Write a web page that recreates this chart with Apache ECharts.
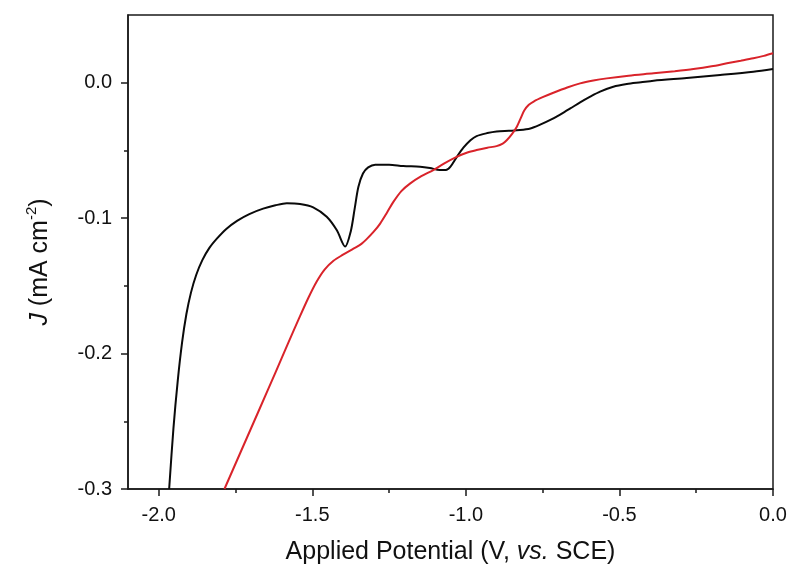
<!DOCTYPE html>
<html>
<head>
<meta charset="utf-8">
<script src="https://cdn.jsdelivr.net/npm/echarts@6/dist/echarts.min.js"></script>
<style>
html,body{margin:0;padding:0;background:#fff;}
#chart{width:789px;height:568px;}
</style>
</head>
<body>
<div id="chart"></div>
<script>
// Black curve: potential (V vs. SCE) and current density J (mA cm^-2)
const blackV = [-1.966,-1.952,-1.938,-1.924,-1.910,-1.895,-1.878,-1.858,-1.835,-1.810,-1.780,-1.745,-1.705,-1.660,-1.620,-1.583,-1.540,-1.497,-1.453,-1.420,-1.393,-1.375,-1.362,-1.350,-1.335,-1.318,-1.295,-1.250,-1.204,-1.149,-1.117,-1.085,-1.065,-1.050,-1.030,-1.008,-0.985,-0.965,-0.930,-0.900,-0.860,-0.824,-0.790,-0.758,-0.725,-0.693,-0.660,-0.628,-0.595,-0.563,-0.520,-0.476,-0.430,-0.389,-0.281,-0.172,-0.064,0.000];
const blackJ = [-0.300,-0.255,-0.220,-0.192,-0.171,-0.155,-0.142,-0.131,-0.122,-0.115,-0.108,-0.102,-0.097,-0.093,-0.0905,-0.089,-0.0895,-0.092,-0.099,-0.109,-0.121,-0.110,-0.093,-0.077,-0.067,-0.0625,-0.0605,-0.0605,-0.0615,-0.062,-0.063,-0.0645,-0.0645,-0.062,-0.055,-0.048,-0.0425,-0.0394,-0.0372,-0.036,-0.0355,-0.035,-0.0338,-0.031,-0.0275,-0.0235,-0.019,-0.0145,-0.0103,-0.0066,-0.003,-0.001,0.0003,0.0015,0.0035,0.0057,0.0081,0.0101];
// Red curve
const redV = [-1.786,-1.730,-1.670,-1.620,-1.580,-1.545,-1.513,-1.486,-1.460,-1.431,-1.400,-1.366,-1.340,-1.323,-1.300,-1.279,-1.257,-1.236,-1.210,-1.182,-1.145,-1.106,-1.070,-1.030,-0.995,-0.965,-0.930,-0.900,-0.880,-0.867,-0.850,-0.834,-0.822,-0.810,-0.795,-0.778,-0.750,-0.715,-0.670,-0.628,-0.585,-0.541,-0.470,-0.389,-0.320,-0.259,-0.200,-0.150,-0.105,-0.064,-0.030,0.000];
const redJ = [-0.300,-0.271,-0.240,-0.214,-0.193,-0.175,-0.159,-0.147,-0.138,-0.1315,-0.127,-0.1225,-0.119,-0.1155,-0.110,-0.104,-0.096,-0.088,-0.080,-0.0745,-0.069,-0.0645,-0.0595,-0.0547,-0.0515,-0.0497,-0.048,-0.0468,-0.045,-0.0425,-0.038,-0.0325,-0.0265,-0.0205,-0.0163,-0.0137,-0.0107,-0.0074,-0.0035,-0.0005,0.0016,0.0032,0.0052,0.0069,0.0085,0.0101,0.0121,0.0143,0.0162,0.018,0.0198,0.0217];
// Axis ticks
const xMajorTicks = [-2.0,-1.5,-1.0,-0.5,0.0];
const xMinorTicks = [-1.75,-1.25,-0.75,-0.25];
const yMajorTicks = [-0.3,-0.2,-0.1,0.0];
const yMinorTicks = [-0.25,-0.15,-0.05];

const zip = (a,b) => a.map((v,i)=>[v,b[i]]);
const FONT = 'Liberation Sans, Arial, sans-serif';
const chart = echarts.init(document.getElementById('chart'), null, {renderer:'canvas'});
const axisColor = '#1a1a1a';
const option = {
  animation:false,
  backgroundColor:'#fff',
  grid:{left:128,right:16,top:15,bottom:79,show:true,borderColor:axisColor,borderWidth:1.5,backgroundColor:'transparent',containLabel:false,outerBoundsMode:'none'},
  xAxis:[{
    type:'value',min:-2.1,max:0,
    axisLine:{show:true,onZero:false,lineStyle:{color:axisColor,width:1.5}},
    axisTick:{show:true,inside:false,length:7,customValues:xMajorTicks,lineStyle:{color:axisColor,width:1.5}},
    axisLabel:{customValues:xMajorTicks,margin:16,fontSize:20,fontFamily:FONT,color:'#111',formatter:v=>v.toFixed(1)},
    splitLine:{show:false},
    name:'Applied Potential (V, {i|vs.} SCE)',nameLocation:'middle',nameGap:51,
    nameTextStyle:{fontSize:25,fontFamily:FONT,color:'#111',rich:{i:{fontStyle:'italic',fontSize:25,fontFamily:FONT,color:'#111'}}}
  },{
    type:'value',min:-2.1,max:0,position:'bottom',
    axisLine:{show:false,onZero:false},
    axisTick:{show:true,inside:false,length:4,customValues:xMinorTicks,lineStyle:{color:axisColor,width:1.5}},
    axisLabel:{show:false},splitLine:{show:false}
  }],
  yAxis:[{
    type:'value',min:-0.3,max:0.05,
    axisLine:{show:true,onZero:false,lineStyle:{color:axisColor,width:1.5}},
    axisTick:{show:true,inside:false,length:7,customValues:yMajorTicks,lineStyle:{color:axisColor,width:1.5}},
    axisLabel:{customValues:yMajorTicks,margin:16,fontSize:20,fontFamily:FONT,color:'#111',formatter:v=>(Math.abs(v)<1e-9?0:v).toFixed(1)},
    splitLine:{show:false},
    name:'{i|J} {n|(mA cm}{sup|-2}{n|)}',nameLocation:'middle',nameGap:72,nameRotate:90,
    nameTextStyle:{fontSize:25,fontFamily:FONT,color:'#111',padding:[0,20,0,0],rich:{
      i:{fontStyle:'italic',fontSize:25,fontFamily:FONT,color:'#111',verticalAlign:'middle',lineHeight:32},
      n:{fontSize:25,fontFamily:FONT,color:'#111',verticalAlign:'middle',lineHeight:32},
      sup:{fontSize:15,fontFamily:FONT,color:'#111',verticalAlign:'top',lineHeight:15}
    }}
  },{
    type:'value',min:-0.3,max:0.05,position:'left',
    axisLine:{show:false,onZero:false},
    axisTick:{show:true,inside:false,length:4,customValues:yMinorTicks,lineStyle:{color:axisColor,width:1.5}},
    axisLabel:{show:false},splitLine:{show:false}
  }],
  series:[
    {type:'line',name:'black',data:zip(blackV,blackJ),showSymbol:false,smooth:0.3,clip:true,
     lineStyle:{color:'#0a0a0a',width:2},itemStyle:{color:'#0a0a0a'}},
    {type:'line',name:'red',data:zip(redV,redJ),showSymbol:false,smooth:0.3,clip:true,
     lineStyle:{color:'#d9232a',width:2},itemStyle:{color:'#d9232a'}}
  ]
};
chart.setOption(option);
</script>
</body>
</html>
